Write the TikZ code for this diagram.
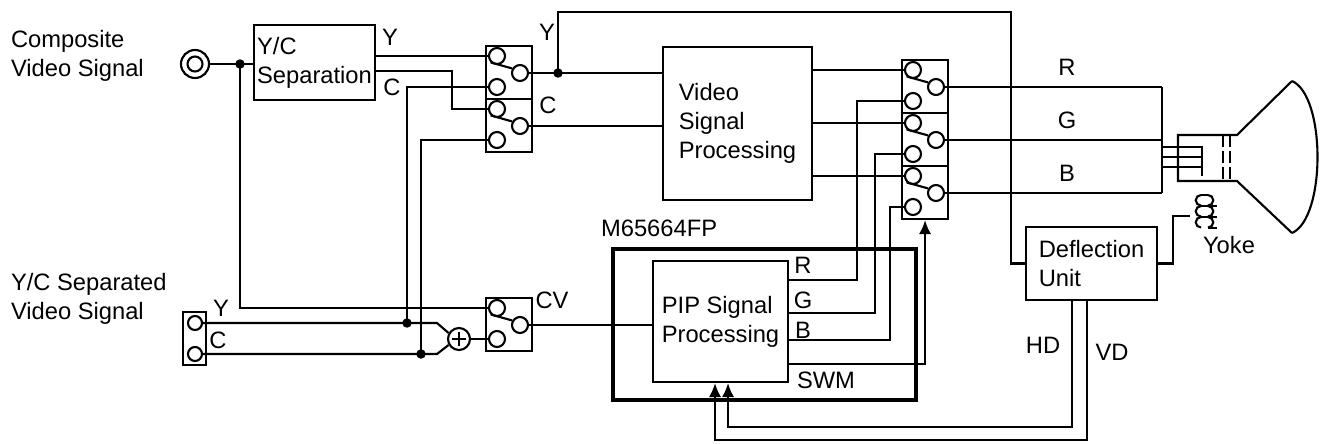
\documentclass[tikz,border=0pt]{standalone}
\usepackage{fontspec}
\setmainfont{Liberation Sans}
\usetikzlibrary{arrows.meta,calc}

\begin{document}
\begin{tikzpicture}
  [x=0.02cm,y=-0.02cm,line width=1.2pt,
   every node/.style={font=\fontsize{13.5}{16.5}\selectfont,inner sep=0pt},
   box/.style={draw,rectangle,align=left},
   swbox/.style={draw,rectangle,anchor=north west,minimum width=0.92cm,minimum height=1.06cm},
   contact/.style={draw,circle,fill=white,minimum size=0.32cm},
   arr/.style={-{Latex[length=8pt,width=7pt]}}]

  \useasboundingbox (0,0) rectangle (1325,443);

  % inputs
  \node[align=left,anchor=west] (comptxt) at (10,56) {Composite\\Video Signal};
  \node[circle,draw,minimum size=0.56cm] (comp) at (195,64) {};
  \node[circle,draw,minimum size=0.3cm] (compin) at (comp) {};
  \node[align=left,anchor=west] (septxt) at (10,299) {Y/C Separated\\Video Signal};
  \node[draw,minimum width=0.46cm,minimum height=1.06cm] (sepin) at (194.5,338.5) {};
  \node[contact,minimum size=0.28cm] (yin) at (195,323) {};
  \node[contact,minimum size=0.28cm] (cin) at (195,354) {};
  \node (ly1) at (221,308) {Y};
  \node (lc1) at (218,340) {C};

  % blocks
  \node[box,minimum width=2.42cm,minimum height=1.5cm] (ycsep) at (314.5,62.5) {Y/C\\Separation};
  \node[box,minimum width=2.98cm,minimum height=3.06cm] (vsp) at (737.5,123.5) {Video\\Signal\\Processing};
  \node[box,minimum width=2.62cm,minimum height=1.46cm] (defl) at (1091.5,263.5) {Deflection\\Unit};
  \node[draw,line width=2.3pt,minimum width=6.06cm,minimum height=3.02cm] (chip) at (764.5,324.5) {};
  \node[anchor=west] (chipname) at (600,228) {M65664FP};
  \node[box,minimum width=2.7cm,minimum height=2.42cm] (pip) at (720.5,321.5) {PIP Signal\\Processing};
  \node[circle,draw,minimum size=0.44cm] (add) at (459,339) {};
  \draw[line width=0.9pt] ($(add)+(0,-7)$) -- ($(add)+(0,7)$) ($(add)+(-7,0)$) -- ($(add)+(7,0)$);

  % switches
  \foreach \n/\x/\y in {swy/485/45,swc/485/98,swr/901/59,swg/901/112,swb/901/165,swcv/485/297}{
    \node[swbox] (\n) at (\x,\y) {};
    \node[contact] (\n-a) at (\x+12,\y+11) {};
    \node[contact] (\n-b) at (\x+12,\y+42) {};
    \node[contact] (\n-o) at (\x+35,\y+28) {};
    \draw (\n-a.225) -- (\n-o.150);
  }

  % wiring
  \coordinate (jc) at (240,64);
  \coordinate (ytap) at (558,73);
  \coordinate (ytop) at (1011,12);
  \coordinate (cbend) at (452,71);
  \coordinate (yjn) at (407,323);
  \coordinate (cjn) at (421,354);
  \coordinate (ykink) at (437,323);
  \coordinate (ckink) at (437,354);
  \coordinate (bus) at (1162,140);

  \draw (comp.east) -- (comp.east -| ycsep.west);
  \draw (jc) |- (swcv-a.west);
  \draw (swy-a.west -| ycsep.east) -- (swy-a.west);
  \draw (cbend -| ycsep.east) -- (cbend) |- (swc-a.west);
  \draw (swy-b.west) -| (yjn);
  \draw (swc-b.west) -| (cjn);
  \draw (yin.east) -- (ykink) -- (add.150);
  \draw (cin.east) -- (ckink) -- (add.210);
  \draw (add.east) -- (swcv-b.west);
  \draw (swcv-o.east) -- (swcv-o.east -| pip.west);
  \draw (swy-o.east) -- (swy-o.east -| vsp.west);
  \draw (ytap) |- (ytop) |- (defl.west);
  \draw (swc-o.east) -- (swc-o.east -| vsp.west);
  \foreach \c in {r,g,b}{
    \draw (sw\c-a.west -| vsp.east) -- (sw\c-a.west);
    \draw (sw\c-o.east) -- (sw\c-o.east -| bus);
  }
  \draw (swr-o.east -| bus) -- (swb-o.east -| bus);
  \draw (swr-b.west) -| (857,280) -- (pip.east |- 857,280);
  \draw (swg-b.west) -| (875,313) -- (pip.east |- 875,313);
  \draw (swb-b.west) -| (890,340) -- (pip.east |- 890,340);
  \draw[arr] (pip.east |- 925,364) -| (swb.south);
  \draw[arr] (defl.south -| 1072,0) |- (728,427) -- (pip.south -| 728,0);
  \draw[arr] (defl.south -| 1087,0) |- (715,440) -- (pip.south -| 715,0);
  \foreach \p in {jc,ytap,yjn,cjn}
    \fill (\p) circle (2.7pt);

  % labels
  \node (ly2) at (390,37) {Y};
  \node (lc2) at (392,87) {C};
  \node (ly3) at (547,32) {Y};
  \node (lc3) at (548,105) {C};
  \node (lcv) at (552,300) {CV};
  \node (lr1) at (1067,67) {R};
  \node (lg1) at (1067,120) {G};
  \node (lb1) at (1067,173) {B};
  \node (lr2) at (803,265) {R};
  \node (lg2) at (803,300) {G};
  \node (lb2) at (803,330) {B};
  \node (lswm) at (826,380) {SWM};
  \node (lhd) at (1043,345) {HD};
  \node (lvd) at (1112,352) {VD};
  \node (lyoke) at (1229,245) {Yoke};

  % picture tube
  \draw (1292,81) -- (1237,135) -- (1178,135) -- (1178,181) -- (1237,181) -- (1292,233);
  \draw (1292,81) .. controls (1326,96) and (1326,218) .. (1292,233);
  \draw[dash pattern=on 0.24cm off 0.08cm] (1223,135) -- (1223,181) (1230,135) -- (1230,181);
  \foreach \y in {147,157,167}
    \draw (bus |- 0,\y) -- (1202,\y) -- ++(0,9);

  % yoke
  \draw (defl.east) -| (1173,216) -- (1190,216);
  \foreach \k in {0,1,2}{
    \draw (1201,195+11*\k) arc[start angle=90,end angle=270,radius=3pt];
    \draw (1201,195+11*\k) -- (1208,195+11*\k);
    \draw (1208,195+11*\k) arc[start angle=90,end angle=-90,radius=3pt];
    \draw (1208,206+11*\k) -- (1217,206+11*\k);
  }
\end{tikzpicture}
\end{document}
